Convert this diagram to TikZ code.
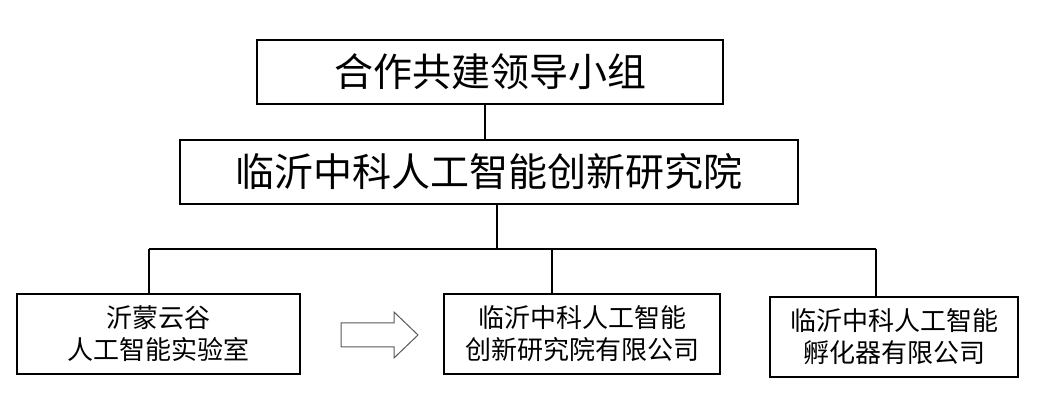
\documentclass[tikz,border=0pt]{standalone}
\usepackage{fontspec}
\newfontfamily\cjk{Noto Sans CJK SC}

\begin{document}
\begin{tikzpicture}[x=1pt, y=-1pt, line width=1.1pt,
  bigbox/.style={draw, inner sep=0pt, minimum height=64pt, font=\cjk\fontsize{39}{44}\selectfont},
  smallbox/.style={draw, inner sep=0pt, minimum height=80pt, align=center, font=\cjk\fontsize{26}{32}\selectfont}]

\useasboundingbox (0,0) rectangle (1061,419);

\node[name=lead, bigbox, minimum width=466pt] at (490,72) {合作共建领导小组};

\node[name=inst, bigbox, minimum width=618pt] at (489,172) {临沂中科人工智能创新研究院};

\node[name=lab, smallbox, minimum width=283pt] at (158.5,334) {沂蒙云谷\\人工智能实验室};
\node[name=comp, smallbox, minimum width=276pt] at (582,334) {临沂中科人工智能\\创新研究院有限公司};
\node[name=incub, smallbox, minimum width=248pt] at (894,337) {临沂中科人工智能\\孵化器有限公司};

% bus line under the institute
\coordinate (bus) at (497,249);
\coordinate (b1) at (149,249);
\coordinate (b2) at (552,249);
\coordinate (b3) at (876,249);

\draw ([xshift=-5pt]lead.south) -- ([xshift=-5pt]lead.south |- inst.north);
\draw (bus |- inst.south) -- (bus);
\draw (b1) -- (b3);
\draw (b1) -- (b1 |- lab.north);
\draw (b2) -- (b2 |- comp.north);
\draw (b3) -- (b3 |- incub.north);

% block arrow between lab and company
\draw[black!65, line width=1pt] (341,323) -- (394,323) -- (394,312) -- (418,335)
  -- (394,358) -- (394,347) -- (341,347) -- cycle;
\end{tikzpicture}
\end{document}
